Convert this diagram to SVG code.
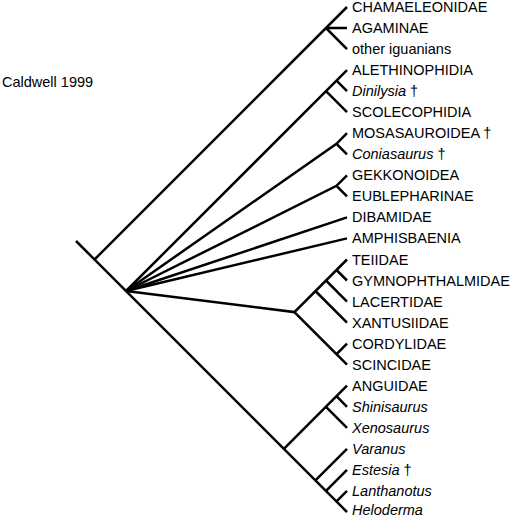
<svg xmlns="http://www.w3.org/2000/svg" width="510" height="518" viewBox="0 0 510 518">
<style>
.e{fill:none;stroke:#000;stroke-width:2.5;stroke-linecap:butt;stroke-linejoin:miter}
text{font-family:"Liberation Sans",Arial,sans-serif;font-size:14.5px;fill:#000}
.i{font-style:italic}
</style>
<rect width="510" height="518" fill="#fff"/>
<text x="2" y="87">Caldwell 1999</text>
<g id="connectors" class="e">
<path d="M76 241L347 512"/>
<path d="M94.5 259.5L347 7"/>
<path d="M326 28L347 28M326 28L347 49.1"/>
<path d="M126 291L326 91.2L347 70.1M336.5 80.6L347 91.2M326 91.2L347 112.2"/>
<path d="M126 291L336.5 143.8L347 133.2M336.5 143.8L347 154.3"/>
<path d="M126 291L336.5 185.8L347 175.3M336.5 185.8L347 196.4"/>
<path d="M126 291L347 217.4"/>
<path d="M126 291L347 238.4"/>
<path d="M126 291L294.4 312.1L347 259.5M315.4 291L347 322.6M326 280.5L347 301.6M336.5 270L347 280.5"/>
<path d="M294.4 312.1L336.5 354.2L347 343.6M336.5 354.2L347 364.7"/>
<path d="M283.9 448.9L347 385.7M326 406.8L347 427.8M336.5 396.2L347 406.8"/>
<path d="M315.4 480.4L347 448.8M326 490.9L347 469.9M336.5 501.4L347 490.9"/>
</g>
<g id="t0"><text x="352" y="12">CHAMAELEONIDAE</text></g>
<g id="t1"><text x="352" y="33">AGAMINAE</text></g>
<g id="t2"><text x="352" y="54.1">other iguanians</text></g>
<g id="t3"><text x="352" y="75.1">ALETHINOPHIDIA</text></g>
<g id="t4"><text x="352" y="96.2"><tspan class="i">Dinilysia</tspan> †</text></g>
<g id="t5"><text x="352" y="117.2">SCOLECOPHIDIA</text></g>
<g id="t6"><text x="352" y="138.2">MOSASAUROIDEA †</text></g>
<g id="t7"><text x="352" y="159.3"><tspan class="i">Coniasaurus</tspan> †</text></g>
<g id="t8"><text x="352" y="180.3">GEKKONOIDEA</text></g>
<g id="t9"><text x="352" y="201.4">EUBLEPHARINAE</text></g>
<g id="t10"><text x="352" y="222.4">DIBAMIDAE</text></g>
<g id="t11"><text x="352" y="243.4">AMPHISBAENIA</text></g>
<g id="t12"><text x="352" y="264.5">TEIIDAE</text></g>
<g id="t13"><text x="352" y="285.5">GYMNOPHTHALMIDAE</text></g>
<g id="t14"><text x="352" y="306.6">LACERTIDAE</text></g>
<g id="t15"><text x="352" y="327.6">XANTUSIIDAE</text></g>
<g id="t16"><text x="352" y="348.6">CORDYLIDAE</text></g>
<g id="t17"><text x="352" y="369.7">SCINCIDAE</text></g>
<g id="t18"><text x="352" y="390.7">ANGUIDAE</text></g>
<g id="t19"><text x="352" y="411.8" class="i">Shinisaurus</text></g>
<g id="t20"><text x="352" y="432.8" class="i">Xenosaurus</text></g>
<g id="t21"><text x="352" y="453.8" class="i">Varanus</text></g>
<g id="t22"><text x="352" y="474.9"><tspan class="i">Estesia</tspan> †</text></g>
<g id="t23"><text x="352" y="495.9" class="i">Lanthanotus</text></g>
<g id="t24"><text x="352" y="514.5" class="i">Heloderma</text></g>
</svg>
